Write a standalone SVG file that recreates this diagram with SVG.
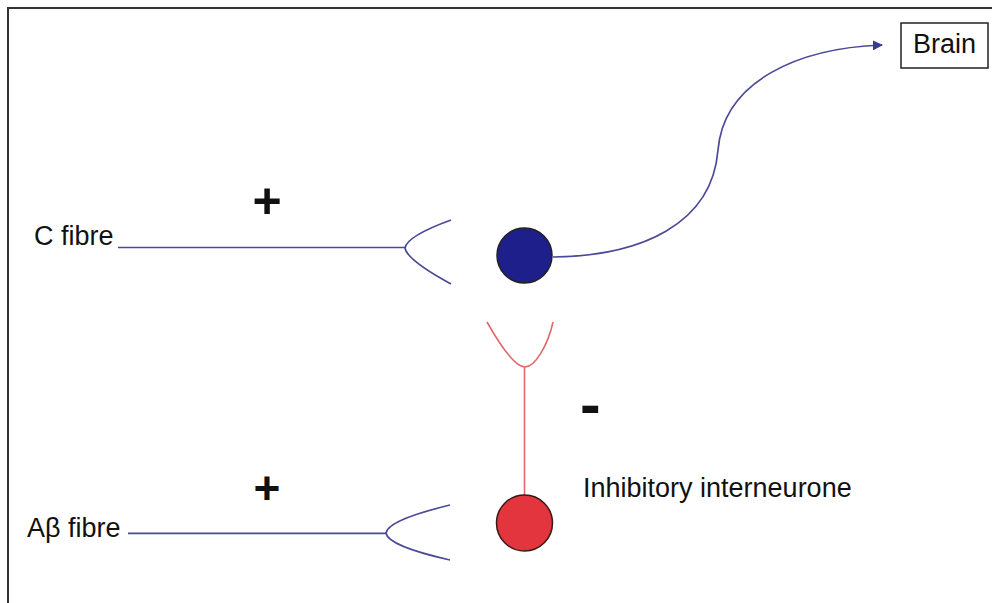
<svg xmlns="http://www.w3.org/2000/svg" width="992" height="603" viewBox="0 0 992 603">
<defs>
<style>
.lbl{font-family:"Liberation Sans",Arial,sans-serif;font-size:27px;fill:#111}
.sign{font-family:"Liberation Sans",Arial,sans-serif;font-weight:bold;fill:#111}
.blue{fill:none;stroke:#4a4a98;stroke-width:1.7}
.red{fill:none;stroke:#e06a6a;stroke-width:1.6}
</style>
<marker id="arr" viewBox="0 0 10 10" refX="9" refY="5" markerWidth="6" markerHeight="6" orient="auto" markerUnits="strokeWidth">
<path d="M0,0 L10,5 L0,10 z" fill="#3a3a8c"/>
</marker>
</defs>
<rect width="992" height="603" fill="#fff"/>
<polyline points="8,603 8,8 992,8" fill="none" stroke="#333" stroke-width="2"/>

<g id="connectors">
<path class="blue" d="M118,247.5 L405,247.5"/>
<path class="blue" d="M451,220 Q407,236 405,248 Q407,260 451,284"/>
<path class="blue" d="M128,533.3 L386,533.3"/>
<path class="blue" d="M450,505 Q388,520 386,533 Q388,546 450,560"/>
<path class="blue" d="M553,257 C640,256 712,225 718,150 C724,80 800,48 882,45" marker-end="url(#arr)"/>
<path class="red" d="M524.5,495 L524.5,367"/>
<path class="red" d="M487,322 C500,345 515,367 525,367 C535,367 548,345 553,322"/>
</g>

<g id="brain">
<rect x="901" y="23" width="87" height="45" fill="#fff" stroke="#222" stroke-width="1.5"/>
<text class="lbl" x="944.5" y="53" text-anchor="middle">Brain</text>
</g>

<g id="projection-neuron">
<circle cx="524.5" cy="255.5" r="27.5" fill="#1f1f8c" stroke="#222" stroke-width="1.5"/>
</g>

<g id="inhibitory-interneurone">
<circle cx="524.5" cy="523" r="28" fill="#e2353d" stroke="#3a1818" stroke-width="1.5"/>
<text class="lbl" x="583" y="497">Inhibitory interneurone</text>
</g>

<g id="c-fibre">
<text class="lbl" x="34" y="245">C fibre</text>
<text class="sign" x="267" y="218" font-size="50" text-anchor="middle">+</text>
</g>

<g id="abeta-fibre">
<text class="lbl" x="27" y="537">Aβ fibre</text>
<text class="sign" x="267" y="504" font-size="46" text-anchor="middle">+</text>
</g>

<g id="minus">
<text class="sign" x="580" y="425" font-size="62">-</text>
</g>
</svg>
